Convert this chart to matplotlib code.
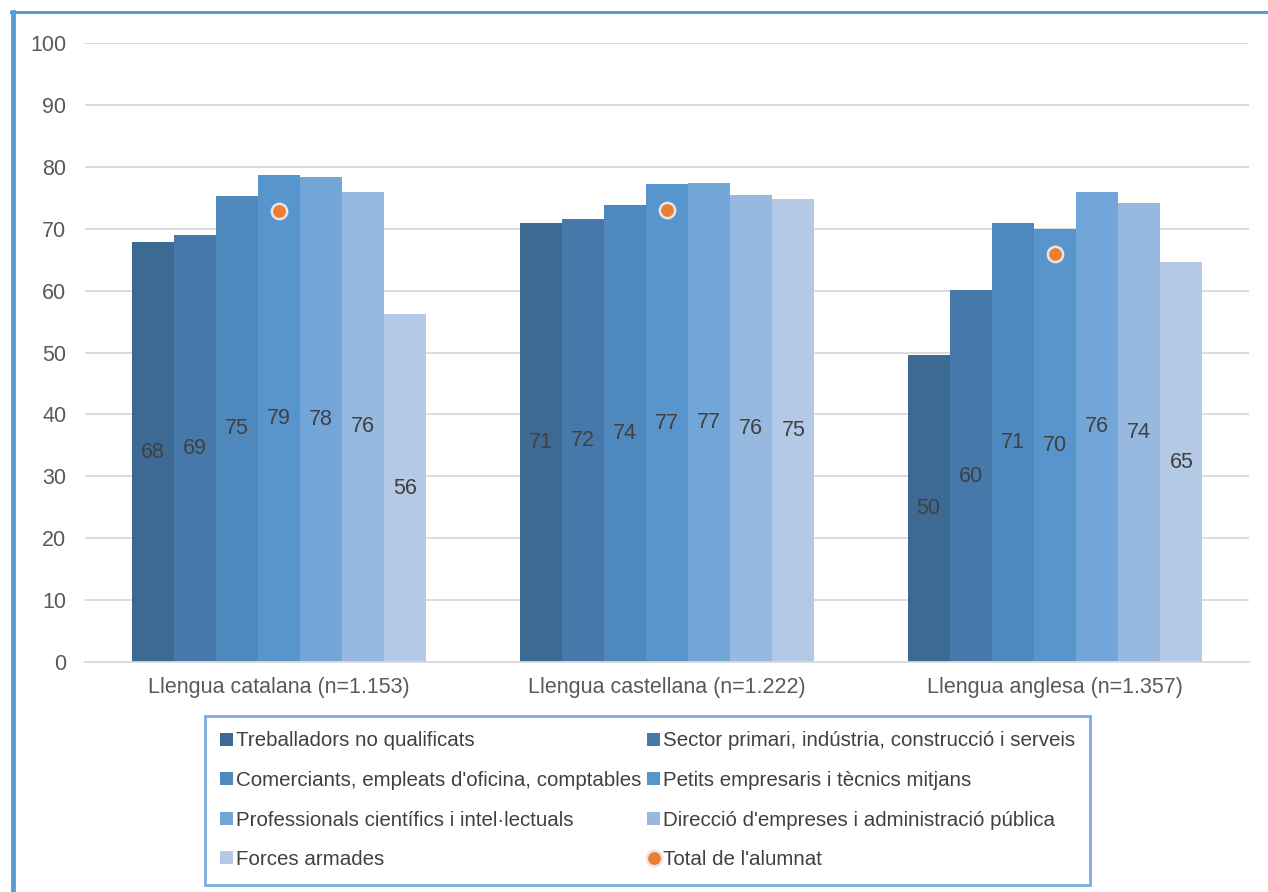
import matplotlib.pyplot as plt
from matplotlib.lines import Line2D
import numpy as np

plt.rcParams['font.family'] = ['Liberation Sans', 'DejaVu Sans']

groups = ['Llengua catalana (n=1.153)', 'Llengua castellana (n=1.222)', 'Llengua anglesa (n=1.357)']
series = ['Treballadors no qualificats',
          'Sector primari, indústria, construcció i serveis',
          "Comerciants, empleats d'oficina, comptables",
          'Petits empresaris i tècnics mitjans',
          'Professionals científics i intel·lectuals',
          "Direcció d'empreses i administració pública",
          'Forces armades']
values = [
    [67.8, 70.9, 49.6],
    [69.0, 71.6, 60.1],
    [75.3, 73.8, 70.9],
    [78.6, 77.2, 70.0],
    [78.4, 77.4, 76.0],
    [76.0, 75.5, 74.2],
    [56.2, 74.8, 64.6],
]
total = [72.9, 73.0, 65.9]
total_label = "Total de l'alumnat"

colors = ['#3D6A93', '#4679A9', '#4E88BD', '#5795CC', '#72A6D8', '#97B9E0', '#B3C9E6']

fig = plt.figure(figsize=(12.68, 8.92), dpi=100)
ax = fig.add_axes([0.067, 0.2578, 0.918, 0.694])

x = np.arange(len(groups))
w = 0.76 / len(series)
handles = []
for i, (name, vals) in enumerate(zip(series, values)):
    bars = ax.bar(x + (i - 3) * w, vals, w, color=colors[i], label=name, zorder=2)
    ax.bar_label(bars, labels=['%.0f' % v for v in vals], label_type='center',
                 fontsize=15.5, color='#404040')
    handles.append(bars)

dots = ax.plot(x, total, 'o', color='#ED7D31', markersize=11, markeredgecolor='#E6E6E6',
               markeredgewidth=1.8, label=total_label, zorder=3, linestyle='none')[0]
handles.append(dots)

ax.set_xlim(-0.5, 2.5)
ax.set_ylim(0, 100)
ax.set_yticks(range(0, 101, 10))
ax.set_xticks(x)
ax.set_xticklabels(groups)
ax.yaxis.grid(True, color='#D9D9D9', linewidth=1.3, zorder=0)
ax.set_axisbelow(True)
for s in ['top', 'right', 'left']:
    ax.spines[s].set_visible(False)
ax.spines['bottom'].set_color('#D9D9D9')
ax.spines['bottom'].set_linewidth(1.3)
ax.tick_params(axis='both', length=0, labelsize=15.5, labelcolor='#595959')
ax.tick_params(axis='y', pad=13.5)
ax.tick_params(axis='x', pad=11)

order = [0, 2, 4, 6, 1, 3, 5, 7]
labels = series + [total_label]
leg = fig.legend([handles[k] for k in order], [labels[k] for k in order],
                 ncol=2, loc='upper left', bbox_to_anchor=(205 / 1268, 1 - 716 / 892),
                 frameon=True, fancybox=False, fontsize=14.8, labelcolor='#404040',
                 handlelength=0.6, handleheight=0.6, handletextpad=0.15,
                 columnspacing=0.3, labelspacing=1.0, borderpad=0.75, borderaxespad=0)
leg.get_frame().set_edgecolor('#5B9BD5')
leg.get_frame().set_linewidth(2)

# outer frame lines (left and top)
fig.add_artist(Line2D([13 / 1268, 13 / 1268], [0, 1 - 12 / 892], transform=fig.transFigure,
                      color='#5B9BD5', linewidth=3.5))
fig.add_artist(Line2D([11 / 1268, 1], [1 - 12 / 892, 1 - 12 / 892], transform=fig.transFigure,
                      color='#5B9BD5', linewidth=2.2))

fig.savefig('out.png', dpi=100)
